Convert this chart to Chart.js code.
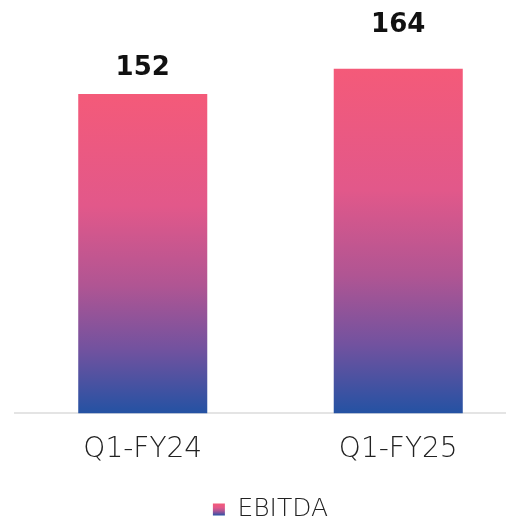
<!DOCTYPE html>
<html>
<head>
<meta charset="utf-8">
<script src="https://cdn.jsdelivr.net/npm/chart.js@4.4.0/dist/chart.umd.min.js"></script>
<style>
  html,body{margin:0;padding:0;background:#fff;overflow:hidden;}
  #wrap{width:554px;height:532px;position:relative;}
</style>
</head>
<body>
<div id="wrap"><canvas id="chart"></canvas></div>
<script>
// EBITDA, quarter comparison
const categories = ["Q1-FY24", "Q1-FY25"];
const seriesName = "EBITDA";
const ebitda = [152, 164];

const FONT = "'DejaVu Sans', sans-serif";
const LEGEND_SIZE = 25, SWATCH = 12;
const STOPS = [[0,"#f45a79"],[0.35,"#e2588a"],[0.6,"#b05593"],[0.8,"#72529f"],[1,"#2452a3"]];
function grad(ctx, top, bottom){
  const g = ctx.createLinearGradient(0, top, 0, bottom);
  STOPS.forEach(s=>g.addColorStop(s[0], s[1]));
  return g;
}

// value labels above each bar (gap between bar top and label, per bar)
const valueLabels = {
  id:"valueLabels",
  afterDatasetsDraw(chart, args, opts){
    const ctx = chart.ctx;
    chart.getDatasetMeta(0).data.forEach((bar,i)=>{
      ctx.save();
      ctx.font = "bold 26px " + FONT;
      ctx.fillStyle = "#111";
      ctx.textAlign = "center";
      ctx.textBaseline = "alphabetic";
      ctx.fillText(String(chart.data.datasets[0].data[i]), bar.x, bar.y - opts.gap[i]);
      ctx.restore();
    });
  }
};

// gradient swatch in the legend
const legendGrad = {
  id:"legendGrad",
  beforeDraw(chart){
    const lg = chart.legend;
    if(!lg || !lg.legendHitBoxes || !lg.legendHitBoxes.length) return;
    const hb = lg.legendHitBoxes[0];
    const top = hb.top + Math.max((LEGEND_SIZE - SWATCH)/2, 0);
    lg.legendItems[0].fillStyle = grad(chart.ctx, top, top + SWATCH);
  }
};

new Chart(document.getElementById("chart"), {
  type:"bar",
  data:{
    labels: categories,
    datasets:[{
      label: seriesName,
      data: ebitda,
      barPercentage: 1,
      categoryPercentage: 0.505,
      borderWidth: 0,
      backgroundColor: c=>{
        const ch = c.chart;
        if(!ch.chartArea || c.type!=="data") return "#f45a79";
        const y = ch.scales.y;
        return grad(ch.ctx, y.getPixelForValue(c.raw), y.getPixelForValue(0));
      }
    }]
  },
  options:{
    responsive:true, maintainAspectRatio:false, animation:false,
    layout:{padding:{left:15, right:28, top:0, bottom:0}},
    plugins:{
      legend:{
        position:"bottom",
        labels:{boxWidth:SWATCH, boxHeight:SWATCH, padding:18, color:"#222", font:{family:FONT, size:LEGEND_SIZE, weight:200}}
      },
      tooltip:{enabled:false},
      valueLabels:{gap:[19, 37]}
    },
    scales:{
      y:{display:false, min:0, max:196.7},
      x:{
        grid:{display:false},
        border:{color:"#e4e4e4", width:2},
        ticks:{color:"#222", padding:12, font:{family:FONT, size:28, weight:200}}
      }
    }
  },
  plugins:[valueLabels, legendGrad]
});
</script>
</body>
</html>
